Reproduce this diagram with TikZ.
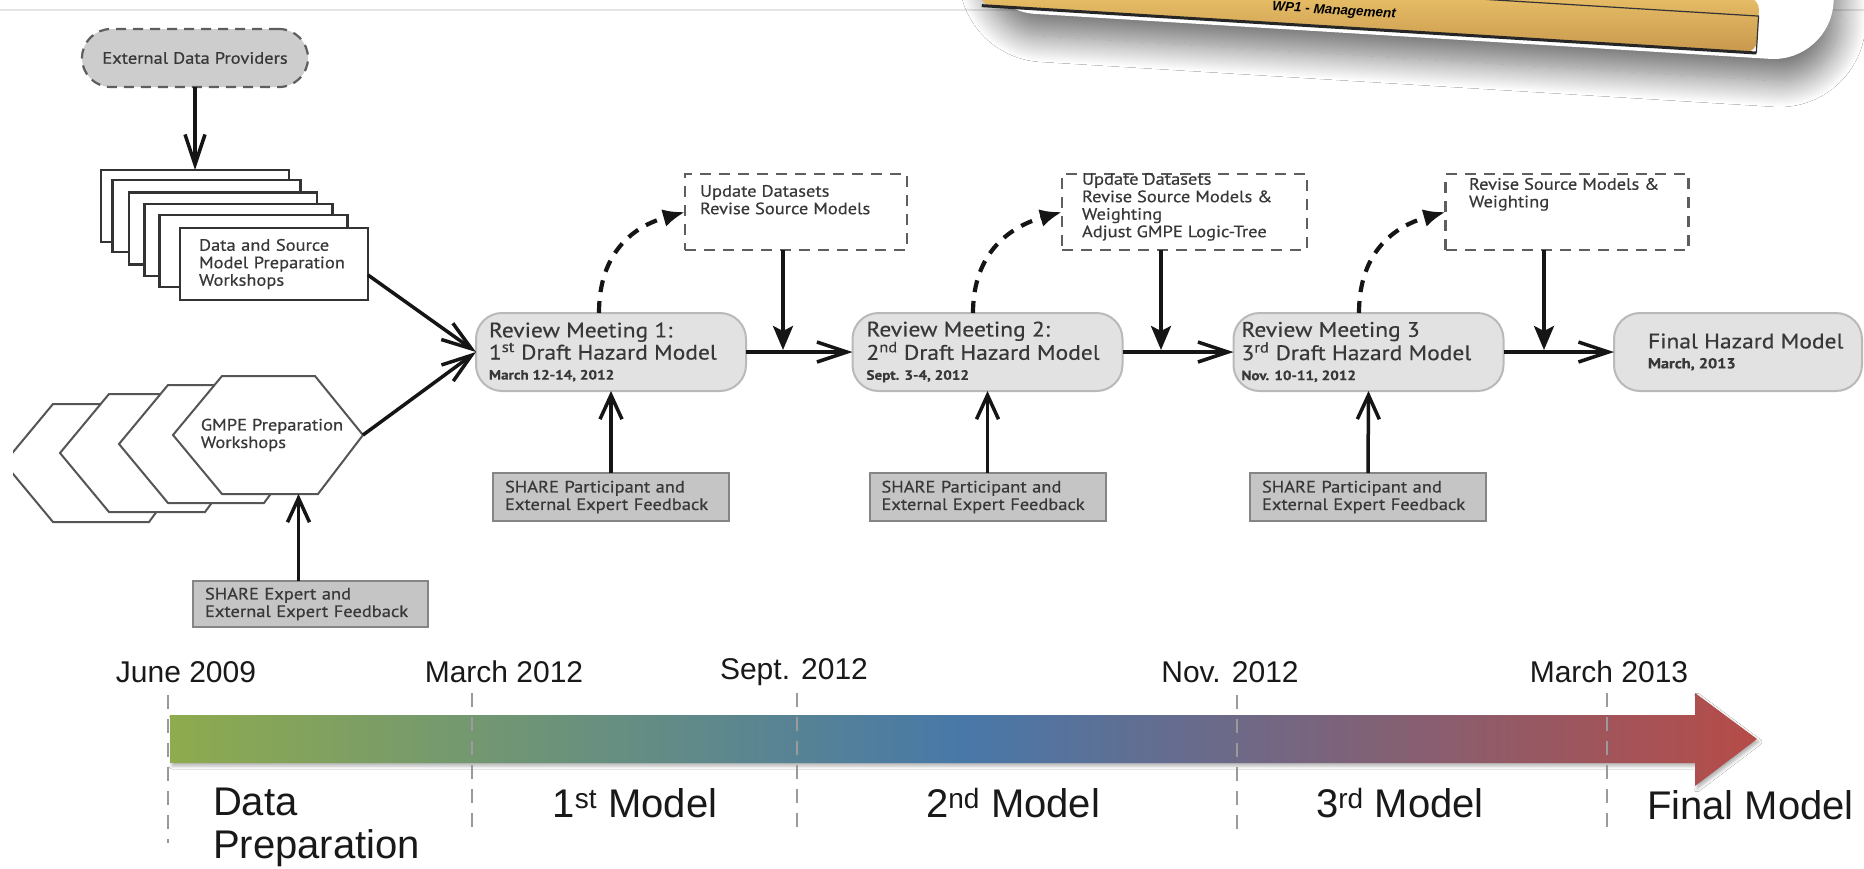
\documentclass[tikz,border=0pt]{standalone}
\usepackage{fontspec}
\setmainfont{Liberation Sans}
\newfontfamily\dgm[FakeStretch=1.12,FakeBold=0.45]{PT Sans}
\usetikzlibrary{arrows.meta,shadows.blur,calc}
\newcommand{\myfs}[2]{\fontsize{#1}{#2}\selectfont}
\definecolor{txtc}{HTML}{383838}
\definecolor{rmfill}{HTML}{E2E2E2}
\definecolor{rmdraw}{HTML}{B9B9B9}
\definecolor{fbfill}{HTML}{C5C5C5}
\definecolor{fbdraw}{HTML}{858585}
\definecolor{edpfill}{HTML}{CDCDCD}
\definecolor{dashc}{HTML}{5E5E5E}
\definecolor{linec}{HTML}{151515}
\definecolor{stackc}{HTML}{333333}
\definecolor{hexc}{HTML}{555555}
\definecolor{tlgreen}{HTML}{8EAB4E}
\definecolor{tlblue}{HTML}{4878A8}
\definecolor{tlred}{HTML}{B64C48}
\definecolor{tickc}{HTML}{9A9A9A}
\definecolor{bandtop}{HTML}{FFDB7A}
\definecolor{bandmid}{HTML}{F2C767}
\definecolor{bandbot}{HTML}{C8984D}
\begin{document}
\begin{tikzpicture}[x=1pt,y=-1pt,
 every node/.style={inner sep=0pt, outer sep=0pt},
 txt/.style={font=\dgm\myfs{16.5}{17.5}, text=txtc, align=left},
 rmbox/.style={draw=rmdraw, fill=rmfill, line width=2pt, rounded corners=26pt, minimum height=78pt, minimum width=#1},
 rmtext/.style={anchor=west, align=left, font=\dgm\myfs{21}{20}, text=txtc},
 fbbox/.style={draw=fbdraw, fill=fbfill, line width=2pt, inner xsep=12pt, text width=212pt, minimum height=48pt, txt},
 dbox/.style={draw=dashc, line width=2.2pt, dash pattern=on 11pt off 8pt, minimum height=76pt, minimum width=#1},
 stackbox/.style={draw=stackc, fill=white, line width=2.4pt, minimum width=188pt, minimum height=72pt},
 hexline/.style={draw=hexc, fill=white, line width=2pt, line join=miter},
 flowarrow/.style={draw=linec, line width=3.5pt, -{Straight Barb[length=30pt,width=20pt]}},
 feedarrow/.style={draw=linec, line width=3.5pt, -{Straight Barb[length=24pt,width=22pt]}},
 downarrow/.style={draw=linec, line width=3.5pt, -{Stealth[length=24pt,width=20pt,inset=5pt]}},
 looparrow/.style={draw=linec, line width=4.2pt, dash pattern=on 12pt off 9pt, -{Latex[length=22pt,width=18pt]}},
 tickline/.style={draw=tickc, line width=2.8pt, dash pattern=on 14pt off 10pt},
 datelbl/.style={font=\myfs{30}{34}, text=black!90},
 phaselbl/.style={font=\myfs{40}{43}, text=black!90, align=left},
]
\useasboundingbox (0,0) rectangle (1864,868);
\clip (0,0) rectangle (1864,868);
\fill[white] (0,0) rectangle (1864,868);
\draw[black!10, line width=2pt] (0,10) -- (1864,10);

% ---------- banner ----------
\begin{scope}[shift={(1756,58)}, rotate=-3.5]
  \fill[white, rounded corners=60pt, blur shadow={shadow xshift=6pt, shadow yshift=-22pt, shadow blur radius=26pt, shadow blur steps=24, shadow opacity=55}] (-782,-260) rectangle (74,0);
  \shade[top color=bandtop, middle color=bandmid, bottom color=bandbot, rounded corners=12pt] (-778,-60) rectangle (0,-5);
  \draw[black!80, line width=1.2pt] (-500,-42) -- (0,-42) -- (0,-5);
  \draw[black!85, line width=3pt] (-776,-5) -- (0,-5);
  \node[transform shape, font=\bfseries\itshape\myfs{13.5}{15}] (wp) at (-424,-21) {WP1 - Management};
\end{scope}

% ---------- left column ----------
\node[draw=dashc, fill=edpfill, line width=2.2pt, dash pattern=on 10pt off 7pt, rounded corners=29pt, minimum width=226pt, minimum height=58pt, txt] (edp) at (195,58) {External Data Providers};

\node[stackbox] (r1) at (195,206) {};
\node[stackbox] (r2) at (206.5,216) {};
\node[stackbox] (r3) at (223,228.5) {};
\node[stackbox] (r4) at (238.5,240) {};
\node[stackbox] (r5) at (253.5,251) {};
\node[stackbox, txt, inner xsep=19pt, text width=150pt] (r6) at (274,264) {Data and Source\\Model Preparation\\Workshops};

\draw[flowarrow] (edp.south) -- (r1.north);

\begin{scope}
  \clip (13,300) rectangle (600,560);
  \foreach \dx/\dy in {-169/28, -113/18, -54/9} {
    \filldraw[hexline, shift={(\dx,\dy)}] (173,435) -- (222,376) -- (315,376) -- (363,433) -- (318,494) -- (222,494) -- cycle;
  }
\end{scope}
\node[minimum width=190pt, minimum height=118pt] (hex) at (268,435) {};
\filldraw[hexline] (hex.west) -- ([xshift=49pt]hex.north west) -- ([xshift=-48pt]hex.north east) -- (hex.east) -- ([xshift=-45pt]hex.south east) -- ([xshift=49pt]hex.south west) -- cycle;
\node[txt] (hext) at (272,435) {GMPE Preparation\\Workshops};

\node[fbbox, text width=211pt, minimum height=46pt] (sx) at (310.5,604) {SHARE Expert and\\External Expert Feedback};
\draw[feedarrow] ([xshift=-12pt]sx.north) -- ([xshift=-12pt]sx.north |- hex.south);

% ---------- review meetings ----------
\node[rmbox=270pt] (rm1) at (611,352) {};
\node[rmbox=270pt] (rm2) at (987.5,352) {};
\node[rmbox=270pt] (rm3) at (1368.5,352) {};
\node[rmbox=248pt] (fin) at (1738,352) {};
\node[rmtext] (rm1t) at ([xshift=13pt]rm1.west) {Review Meeting 1:\\1\textsuperscript{st} Draft Hazard Model\\{\bfseries\myfs{13.5}{16}March 12-14, 2012}};
\node[rmtext] (rm2t) at ([xshift=14pt]rm2.west) {Review Meeting 2:\\2\textsuperscript{nd} Draft Hazard Model\\{\bfseries\myfs{13.5}{16}Sept. 3-4, 2012}};
\node[rmtext] (rm3t) at ([xshift=8pt]rm3.west) {Review Meeting 3\\3\textsuperscript{rd} Draft Hazard Model\\{\bfseries\myfs{13.5}{16}Nov. 10-11, 2012}};
\node[rmtext] (fint) at ([xshift=34pt]fin.west) {Final Hazard Model\\{\bfseries\myfs{14.5}{16}March, 2013}};

\draw[flowarrow] ([yshift=-11pt]r6.east) -- (rm1.west);
\draw[flowarrow] (hex.east) -- (rm1.west);
\draw[flowarrow] (rm1.east) -- (rm2.west);
\draw[flowarrow] (rm2.east) -- (rm3.west);
\draw[flowarrow] (rm3.east) -- (fin.west);

% ---------- dashed boxes ----------
\node[dbox=222pt] (db1) at (796,212) {};
\node[dbox=245pt] (db2) at (1184.5,212) {};
\node[dbox=243pt] (db3) at (1567,212) {};
\node[txt, anchor=north west] (db1t) at (700,185) {Update Datasets\\Revise Source Models};
\node[txt, anchor=north west] (db2t) at (1082,173) {Update Datasets\\Revise Source Models \&\\Weighting\\Adjust GMPE Logic-Tree};
\node[txt, anchor=north west] (db3t) at (1469,178) {Revise Source Models \&\\Weighting};

\draw[looparrow] ([xshift=-12pt]rm1.north) .. controls +(0,-62) and +(-50,14) .. (db1.west);
\draw[looparrow] ([xshift=-14.5pt]rm2.north) .. controls +(0,-62) and +(-50,14) .. (db2.west);
\draw[looparrow] ([xshift=-9.5pt]rm3.north) .. controls +(0,-62) and +(-50,14) .. (db3.west);

\draw[downarrow] ([xshift=-13pt]db1.south) -- ([xshift=-13pt,yshift=2pt]db1.south |- rm1.east);
\draw[downarrow] ([xshift=-23.5pt]db2.south) -- ([xshift=-23.5pt,yshift=2pt]db2.south |- rm2.east);
\draw[downarrow] ([xshift=-23pt]db3.south) -- ([xshift=-23pt,yshift=2pt]db3.south |- rm3.east);

% ---------- feedback ----------
\node[fbbox] (fb1) at (611,497) {SHARE Participant and\\External Expert Feedback};
\node[fbbox] (fb2) at (987.5,497) {SHARE Participant and\\External Expert Feedback};
\node[fbbox] (fb3) at (1368,497) {SHARE Participant and\\External Expert Feedback};
\draw[feedarrow] (fb1.north) -- (rm1.south);
\draw[feedarrow] (fb2.north) -- (rm2.south);
\draw[feedarrow] (fb3.north) -- (rm3.south);

% ---------- timeline ----------
\shade[left color=tlgreen, right color=tlred, middle color=tlblue, blur shadow={shadow xshift=2pt, shadow yshift=-3pt, shadow blur radius=3pt, shadow opacity=30}] (170,715) -- (1695,715) -- (1695,693) -- (1757,739) -- (1695,786) -- (1695,763) -- (170,763) -- cycle;
\draw[tickline] (168,695) -- (168,843);
\draw[tickline] (472,693) -- (472,833);
\draw[tickline] (797,693) -- (797,833);
\draw[tickline] (1237,695) -- (1237,833);
\draw[tickline] (1607,693) -- (1607,833);

\node[datelbl] (t1) at (186,672) {June 2009};
\node[datelbl] (t2) at (504,672) {March 2012};
\node[datelbl] (t3) at (794,672) {Sept. 2012};
\node[datelbl] (t4) at (1230,672) {Nov. 2012};
\node[datelbl] (t5) at (1609,672) {March 2013};

\node[phaselbl, anchor=west] (p0) at (213,827) {Data\\Preparation};
\node[phaselbl] (p1) at (635,803) {1\textsuperscript{st} Model};
\node[phaselbl] (p2) at (1013,803) {2\textsuperscript{nd} Model};
\node[phaselbl] (p3) at (1400,803) {3\textsuperscript{rd} Model};
\node[phaselbl, anchor=west] (p4) at (1647,805) {Final Model};
\end{tikzpicture}
\end{document}
